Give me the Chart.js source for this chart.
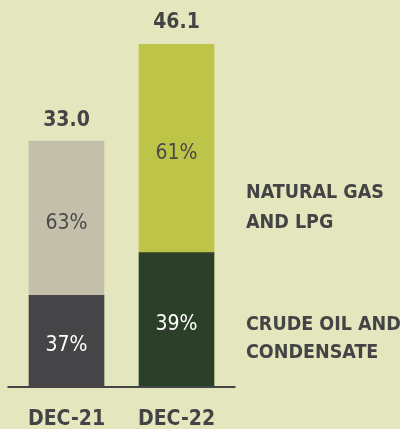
<!DOCTYPE html>
<html>
<head>
<meta charset="utf-8">
<script src="https://cdn.jsdelivr.net/npm/chart.js@4"></script>
<style>
  html, body { margin: 0; padding: 0; background: #e4e7bd; }
  #wrap { width: 400px; height: 429px; }
</style>
</head>
<body>
<div id="wrap"><canvas id="mix-chart" width="400" height="429"></canvas></div>
<script>
// totals and shares
let categories = ['DEC-21', 'DEC-22'];
let totals = [33.0, 46.1];
let crudeShare = [37, 39];
let gasShare = [63, 61];

let crudeValues = totals.map((t, i) => t * crudeShare[i] / 100);
let gasValues = totals.map((t, i) => t * gasShare[i] / 100);

let fontFamily = '"DejaVu Sans Condensed", "Liberation Sans Narrow", "DejaVu Sans", sans-serif';
let darkText = '#444446';

let labelsPlugin = {
    id: 'labels',
    afterDatasetsDraw(chart) {
        let ctx = chart.ctx;
        let shares = [crudeShare, gasShare];
        let textColors = ['#ffffff', '#4a4a48'];
        ctx.save();
        ctx.textAlign = 'center';
        ctx.textBaseline = 'middle';

        // percentages inside the segments
        ctx.font = '21px ' + fontFamily;
        chart.data.datasets.forEach((ds, di) => {
            chart.getDatasetMeta(di).data.forEach((bar, i) => {
                let mid = (bar.y + bar.base) / 2 + 5;
                ctx.fillStyle = textColors[di];
                ctx.fillText(shares[di][i] + '%', bar.x, mid);
            });
        });

        // totals above bars
        ctx.font = 'bold 21px ' + fontFamily;
        ctx.fillStyle = darkText;
        chart.getDatasetMeta(1).data.forEach((bar, i) => {
            ctx.fillText(totals[i].toFixed(1), bar.x, bar.y - 21);
        });

        // category labels under the axis
        let xScale = chart.scales.x;
        let area = chart.chartArea;
        categories.forEach((c, i) => {
            ctx.fillText(c, xScale.getPixelForValue(i), area.bottom + 34);
        });

        // baseline
        let y0 = chart.scales.y.getPixelForValue(0);
        ctx.fillStyle = '#444446';
        ctx.fillRect(area.left - 4, y0, area.right - area.left + 8, 2);

        // series names on the right
        ctx.textAlign = 'left';
        ctx.font = 'bold 19.5px ' + fontFamily;
        ctx.fillStyle = darkText;
        let x = 246;
        ctx.fillText('NATURAL GAS', x, 193);
        ctx.fillText('AND LPG', x, 223);
        ctx.fillText('CRUDE OIL AND', x, 325);
        ctx.fillText('CONDENSATE', x, 353);
        ctx.restore();
    }
};

let ctx = document.getElementById('mix-chart').getContext('2d');
let chart = new Chart(ctx, {
    type: 'bar',
    data: {
        labels: categories,
        datasets: [{
            label: 'Crude oil and condensate',
            data: crudeValues,
            backgroundColor: ['#454547', '#2b3f29']
        }, {
            label: 'Natural gas and LPG',
            data: gasValues,
            backgroundColor: ['#c4bfab', '#bdc448']
        }]
    },
    options: {
        responsive: false,
        animation: false,
        layout: { padding: { top: 44, left: 11.5, right: 168.5, bottom: 43 } },
        plugins: { legend: { display: false }, tooltip: { enabled: false } },
        datasets: { bar: { barThickness: 75 } },
        scales: {
            x: {
                stacked: true,
                display: false
            },
            y: {
                stacked: true,
                display: false,
                min: 0,
                max: Math.max(...totals)
            }
        }
    },
    plugins: [labelsPlugin]
});
</script>
</body>
</html>
